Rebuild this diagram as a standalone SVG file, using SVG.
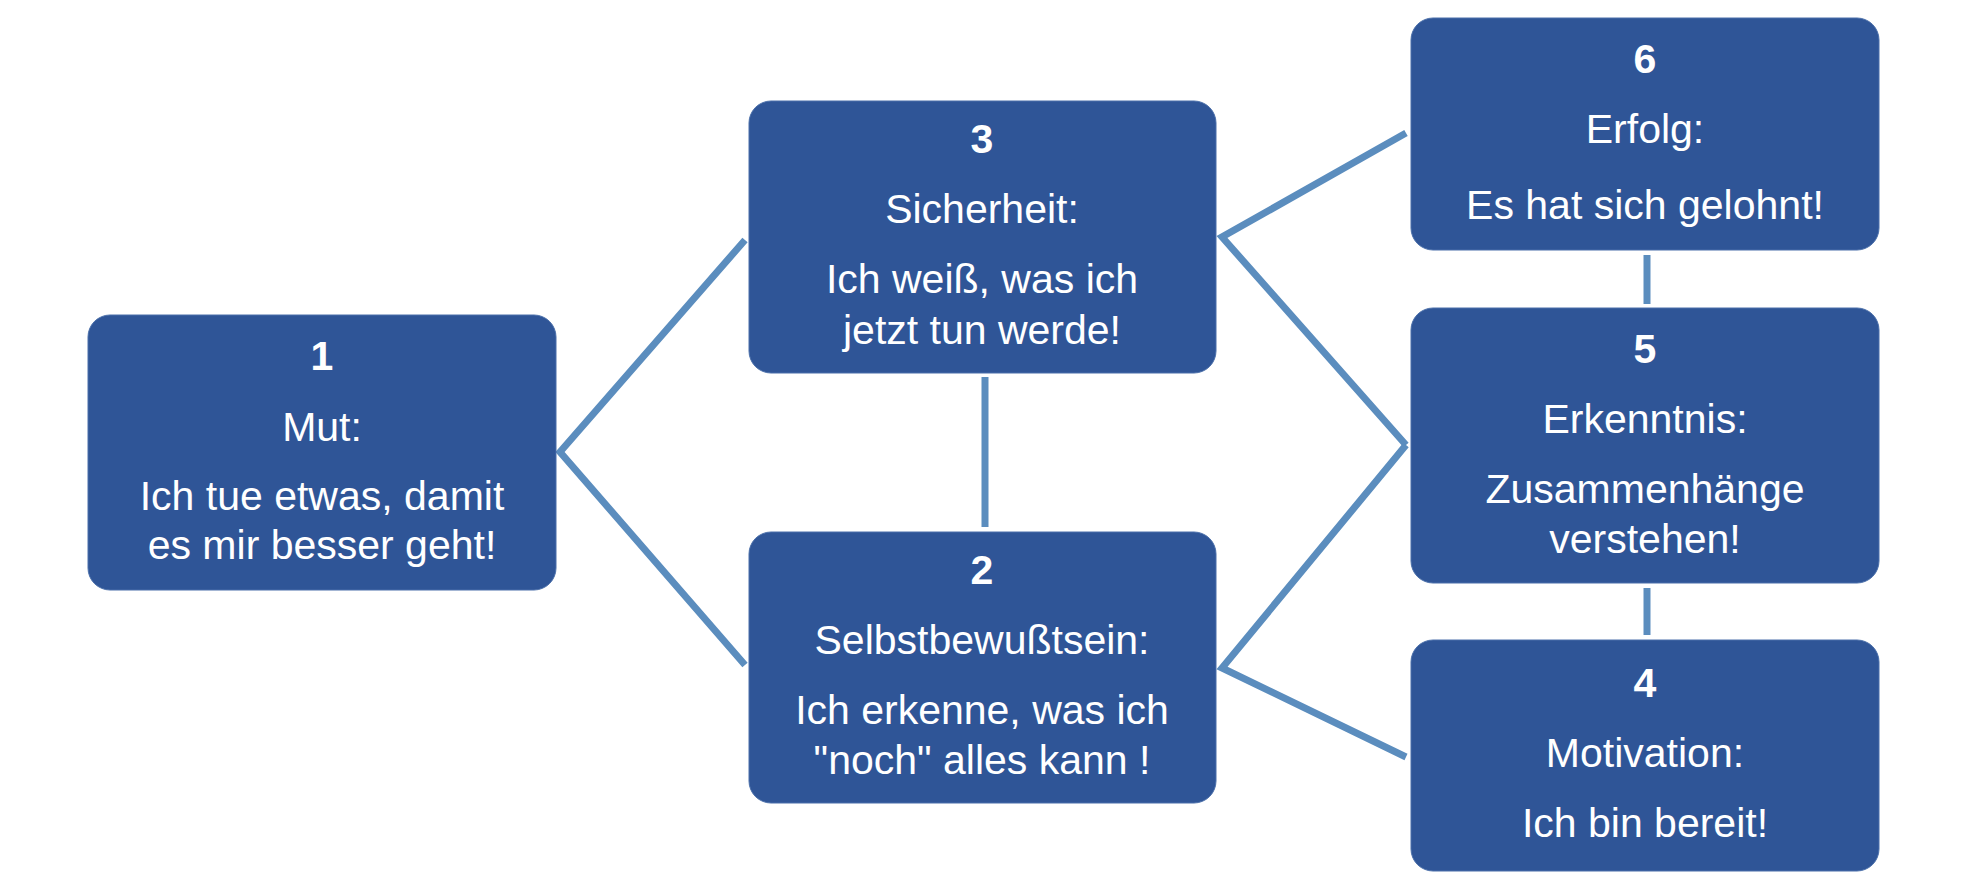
<svg xmlns="http://www.w3.org/2000/svg" width="1970" height="888" viewBox="0 0 1970 888">
<style>
.box{fill:#2F5597;stroke:#4A6FAA;stroke-width:1}
.conn{fill:none;stroke:#5B8DBE;stroke-width:7;stroke-linejoin:miter}
text{font-family:"Liberation Sans",Arial,sans-serif;font-size:41px;fill:#FFFFFF;text-anchor:middle}
.num{font-weight:bold}
</style>
<rect width="1970" height="888" fill="#FFFFFF"/>
<g id="connectors">
<polyline class="conn" points="745,240 560,452 745,665"/>
<polyline class="conn" points="1406,133 1222,237 1406,445"/>
<polyline class="conn" points="1406,445 1222,668 1406,757"/>
<line class="conn" x1="985" y1="377" x2="985" y2="527"/>
<line class="conn" x1="1647" y1="255" x2="1647" y2="304"/>
<line class="conn" x1="1647" y1="588" x2="1647" y2="635"/>
</g>
<g id="node1">
<rect class="box" x="88" y="315" width="468" height="275" rx="22"/>
<text class="num" x="322" y="370">1</text>
<text x="322" y="441">Mut:</text>
<text x="322" y="510">Ich tue etwas, damit</text>
<text x="322" y="559">es mir besser geht!</text>
</g>
<g id="node3">
<rect class="box" x="749" y="101" width="467" height="272" rx="22"/>
<text class="num" x="982" y="153">3</text>
<text x="982" y="223">Sicherheit:</text>
<text x="982" y="293">Ich weiß, was ich</text>
<text x="982" y="344">jetzt tun werde!</text>
</g>
<g id="node2">
<rect class="box" x="749" y="532" width="467" height="271" rx="22"/>
<text class="num" x="982" y="584">2</text>
<text x="982" y="654">Selbstbewußtsein:</text>
<text x="982" y="724">Ich erkenne, was ich</text>
<text x="982" y="774">"noch" alles kann !</text>
</g>
<g id="node6">
<rect class="box" x="1411" y="18" width="468" height="232" rx="22"/>
<text class="num" x="1645" y="73">6</text>
<text x="1645" y="143">Erfolg:</text>
<text x="1645" y="219">Es hat sich gelohnt!</text>
</g>
<g id="node5">
<rect class="box" x="1411" y="308" width="468" height="275" rx="22"/>
<text class="num" x="1645" y="363">5</text>
<text x="1645" y="433">Erkenntnis:</text>
<text x="1645" y="503">Zusammenhänge</text>
<text x="1645" y="553">verstehen!</text>
</g>
<g id="node4">
<rect class="box" x="1411" y="640" width="468" height="231" rx="22"/>
<text class="num" x="1645" y="697">4</text>
<text x="1645" y="767">Motivation:</text>
<text x="1645" y="837">Ich bin bereit!</text>
</g>
</svg>
